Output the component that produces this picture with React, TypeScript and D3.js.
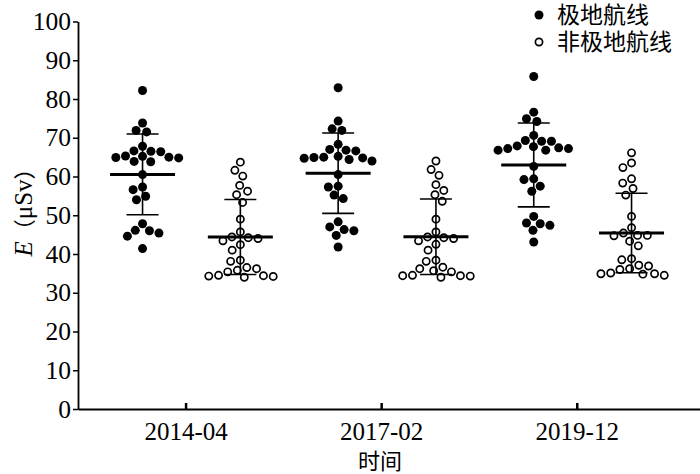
import * as d3 from 'd3'
import { useEffect, useRef } from 'react'

// periods on the x axis and the two route types
const periods = ['2014-04', '2017-02', '2019-12']
const routeTypes = ['极地航线', '非极地航线']

// dose per flight (μSv)
const polar2014 = [82.2, 73.8, 71.9, 71.5, 67.8, 66.5, 66.4, 66.6, 65.2, 64.9, 65.0, 65.3, 64.8, 63.9, 63.8,
  60.5, 57.3, 56.6, 54.9, 54.0, 47.8, 46.1, 46.0, 45.4, 44.6, 41.4]
const nonPolar2014 = [63.7, 61.6, 60.1, 57.7, 56.2, 55.3, 53.3, 49.0, 45.7, 44.4, 44.2, 44.0, 43.4, 42.4,
  41.0, 38.4, 38.1, 36.5, 36.2, 35.8, 35.4, 34.5, 34.4, 34.3, 34.2, 34.0]
const polar2017 = [82.9, 74.3, 71.9, 72.3, 68.3, 67.0, 66.8, 66.6, 65.0, 64.9, 64.7, 64.4, 64.8, 65.2, 64.0,
  60.5, 57.5, 57.3, 55.2, 54.3, 48.3, 46.3, 47.0, 46.0, 44.8, 41.8]
const nonPolar2017 = [64.0, 61.8, 60.3, 57.9, 56.4, 55.3, 53.6, 49.0, 45.7, 44.2, 44.4, 44.0, 43.4, 42.5,
  41.0, 38.1, 38.4, 36.2, 36.6, 35.7, 35.4, 34.4, 34.4, 34.0, 34.5, 34.3]
const polar2019 = [85.8, 76.6, 74.2, 74.9, 70.6, 69.1, 69.3, 69.1, 67.9, 67.2, 66.8, 67.4, 66.8, 67.7, 67.2,
  62.6, 59.2, 59.4, 57.5, 56.2, 49.7, 47.8, 48.0, 47.4, 46.1, 43.1]
const nonPolar2019 = [66.1, 63.5, 62.3, 59.4, 58.3, 56.9, 55.2, 49.7, 46.8, 44.7, 44.8, 44.8, 45.4, 43.3,
  42.1, 38.5, 38.8, 36.9, 37.1, 36.2, 36.0, 34.9, 34.9, 34.5, 35.1, 34.8]

const yTicks = [0, 10, 20, 30, 40, 50, 60, 70, 80, 90, 100]

type Group = { period: number; route: number; values: number[] }

const groups: Group[] = [
  { period: 0, route: 0, values: polar2014 },
  { period: 0, route: 1, values: nonPolar2014 },
  { period: 1, route: 0, values: polar2017 },
  { period: 1, route: 1, values: nonPolar2017 },
  { period: 2, route: 0, values: polar2019 },
  { period: 2, route: 1, values: nonPolar2019 },
]

const serif = '"Liberation Serif", "Times New Roman", serif'
const cjk = '"Noto Sans CJK SC", sans-serif'

// beeswarm: each dot takes the free spot nearest the centre line
function swarm(values: number[], y: (v: number) => number, d: number) {
  const placed: { v: number; py: number; dx: number }[] = []
  const sorted = [...values].sort((a, b) => b - a)
  for (const v of sorted) {
    const py = y(v)
    const near = placed.filter(q => Math.abs(q.py - py) < d)
    const cands = [0]
    near.forEach(q => {
      const w = Math.sqrt(d * d - (q.py - py) ** 2)
      cands.push(q.dx + w, q.dx - w)
    })
    cands.sort((a, b) => Math.abs(a) - Math.abs(b) || a - b)
    const dx = cands.find(c =>
      near.every(q => (q.dx - c) ** 2 + (q.py - py) ** 2 >= d * d - 0.01)
    )!
    placed.push({ v, py, dx })
  }
  return placed
}

export default function App() {
  const ref = useRef<SVGSVGElement | null>(null)

  useEffect(() => {
    if (!ref.current) return
    const svg = d3.select(ref.current)
    svg.selectAll('*').remove()

    const x = d3.scaleLinear().domain([0.34, 6.7]).range([78, 700])
    const y = d3.scaleLinear().domain([0, 100]).range([409, 21.5])
    const slot = (g: Group) => 1 + g.period * 2 + g.route
    const r = 4.5

    // dots
    groups.forEach(g => {
      const cx = x(slot(g))
      const pts = swarm(g.values, y, 9.8)
      const filled = g.route === 0
      svg.append('g')
        .selectAll('circle')
        .data(pts)
        .join('circle')
        .attr('cx', d => cx + d.dx)
        .attr('cy', d => d.py)
        .attr('r', filled ? r : r - 0.9)
        .attr('fill', filled ? '#000' : '#fff')
        .attr('stroke', '#000')
        .attr('stroke-width', filled ? 0 : 1.7)
    })

    // mean ± SD
    groups.forEach(g => {
      const cx = x(slot(g))
      const m = d3.mean(g.values)!
      const sd = d3.deviation(g.values)!
      const s = svg.append('g').attr('stroke', '#000')
      s.append('line')
        .attr('x1', cx).attr('x2', cx)
        .attr('y1', y(m + sd)).attr('y2', y(m - sd))
        .attr('stroke-width', 1.6)
      ;[m + sd, m - sd].forEach(v => {
        s.append('line')
          .attr('x1', cx - 16).attr('x2', cx + 16)
          .attr('y1', y(v)).attr('y2', y(v))
          .attr('stroke-width', 1.6)
      })
      s.append('line')
        .attr('x1', cx - 32.5).attr('x2', cx + 32.5)
        .attr('y1', y(m)).attr('y2', y(m))
        .attr('stroke-width', 3)
    })

    // y axis
    const yAxis = svg.append('g')
      .attr('transform', 'translate(78,0)')
      .call(d3.axisLeft(y).tickValues(yTicks).tickSizeInner(5).tickSizeOuter(0).tickPadding(2))
    yAxis.select('.domain').attr('stroke-width', 1.8)
    yAxis.selectAll('.tick line').attr('stroke-width', 1.5)
    yAxis.selectAll('.tick text')
      .attr('font-family', serif)
      .attr('font-size', 25.5)
      .attr('fill', '#000')

    // x axis: one tick per period
    const xAxis = svg.append('g')
      .attr('transform', `translate(0,${y(0)})`)
      .call(
        d3.axisBottom(x)
          .tickValues(periods.map((_, i) => 1.44 + i * 2))
          .tickFormat((_, i) => periods[i])
          .tickSizeInner(-6)
          .tickSizeOuter(0)
          .tickPadding(13)
      )
    xAxis.select('.domain').attr('stroke-width', 1.8)
    xAxis.selectAll('.tick line').attr('stroke-width', 2.5)
    xAxis.selectAll('.tick text')
      .attr('font-family', serif)
      .attr('font-size', 25)
      .attr('fill', '#000')

    // axis titles
    svg.append('text')
      .attr('x', 380)
      .attr('y', 469)
      .attr('text-anchor', 'middle')
      .attr('font-family', cjk)
      .attr('font-size', 22)
      .text('时间')

    const yt = svg.append('text')
      .attr('transform', 'translate(32,207) rotate(-90)')
      .attr('text-anchor', 'middle')
      .attr('font-family', serif)
      .attr('font-size', 25)
    yt.append('tspan').attr('font-style', 'italic').text('E')
    yt.append('tspan').attr('font-family', cjk).attr('font-size', 22).text('（')
    yt.append('tspan').text('μSv')
    yt.append('tspan').attr('font-family', cjk).attr('font-size', 22).text('）')

    // legend
    const legend = svg.append('g')
    routeTypes.forEach((name, i) => {
      const ly = 15 + i * 27
      legend.append('circle')
        .attr('cx', 539).attr('cy', ly)
        .attr('r', i === 0 ? r : r - 0.9)
        .attr('fill', i === 0 ? '#000' : '#fff')
        .attr('stroke', '#000')
        .attr('stroke-width', i === 0 ? 0 : 1.7)
      legend.append('text')
        .attr('x', 557).attr('y', ly)
        .attr('dy', '0.35em')
        .attr('font-family', cjk)
        .attr('font-size', 23)
        .text(name)
    })
  }, [])

  return (
    <svg
      ref={ref}
      width={700}
      height={474}
      style={{ position: 'absolute', left: 0, top: 0, background: '#fff' }}
    />
  )
}
